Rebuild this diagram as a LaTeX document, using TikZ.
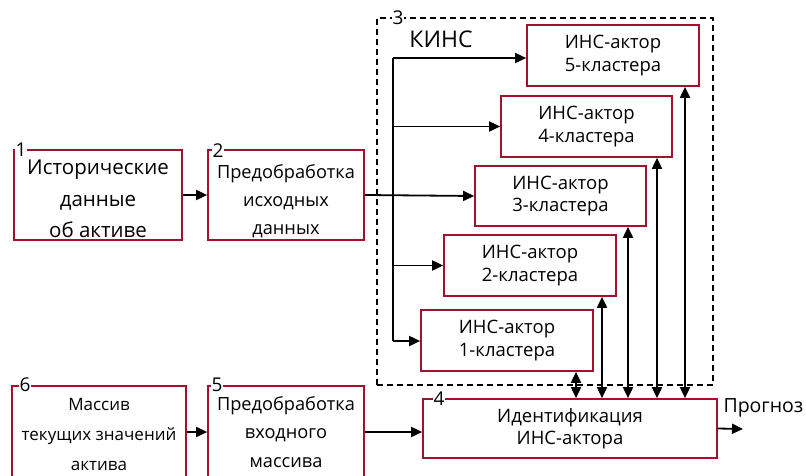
\documentclass[tikz,border=0pt]{standalone}
\usepackage{fontspec}
\setmainfont{Open Sans}
\usetikzlibrary{arrows.meta}
\definecolor{boxred}{HTML}{A0122E}
\tikzset{
  block/.style={draw=boxred, line width=1.7pt, fill=white, inner sep=0pt, align=center},
  actor/.style={block, font=\fontsize{18.5}{22.5}\selectfont},
  num/.style={fill=white, inner sep=1pt, font=\fontsize{19}{19}\selectfont},
  link/.style={line width=1.8pt, -{Triangle[length=11pt,width=10pt]}},
  twoway/.style={line width=1.8pt, {Triangle[length=11pt,width=10pt]}-{Triangle[length=11pt,width=10pt]}},
}

\begin{document}
\begin{tikzpicture}[x=1pt,y=-1pt]
    \useasboundingbox (0,0) rectangle (806,476);
    % upper chain
    \node[block, font=\fontsize{20.5}{31.5}\selectfont, minimum width=168pt, minimum height=90pt] (hist) at (98,195) {\rule{0pt}{23pt}Исторические\\данные\\об активе};
    \node[block, font=\fontsize{18.2}{28}\selectfont, minimum width=156pt, minimum height=90pt] (prep) at (286,195) {\rule{0pt}{26pt}Предобработка\\исходных\\данных};
    % lower chain
    \node[block, font=\fontsize{17}{30}\selectfont, minimum width=174pt, minimum height=92pt] (mass) at (99,432) {\rule{0pt}{17pt}Массив\\текущих значений\\актива};
    \node[block, font=\fontsize{18.2}{28.5}\selectfont, minimum width=156pt, minimum height=92pt] (prepin) at (286,432) {Предобработка\\входного\\массива};
    % KINS
    \node[draw, dash pattern=on 6pt off 4pt, line width=1.3pt, minimum width=336pt, minimum height=367pt] (kins) at (545,201.5) {};
    \node[font=\fontsize{23}{23}\selectfont] (kinsname) at (441,39) {КИНС};
    \node[actor, minimum width=172pt, minimum height=61pt] (act5) at (613,55.5) {ИНС-актор\\5-кластера};
    \node[actor, minimum width=171pt, minimum height=61pt] (act4) at (586.5,126.5) {ИНС-актор\\4-кластера};
    \node[actor, minimum width=171pt, minimum height=60pt] (act3) at (560.5,196) {ИНС-актор\\3-кластера};
    \node[actor, minimum width=172pt, minimum height=61pt] (act2) at (530,265.5) {ИНС-актор\\2-кластера};
    \node[actor, minimum width=172pt, minimum height=61pt] (act1) at (507,340.5) {ИНС-актор\\1-кластера};
    \node[actor, minimum width=294pt, minimum height=59pt] (ident) at (570,428.5) {Идентификация\\ИНС-актора};
    % numbers
    \node[num] (l1) at (21,150) {1};
    \node[num] (l2) at (218,151) {2};
    \node[num] (l3) at (398,18) {3};
    \node[num] (l4) at (439,399) {4};
    \node[num] (l5) at (217,385) {5};
    \node[num] (l6) at (25,385) {6};
    % connections
    \coordinate (bustop) at (393,58);
    \coordinate (busbot) at (393,341);
    \draw[link] (hist) -- (prep);
    \draw[link] (prep.east) -- (act3.west);
    \draw[line width=1.8pt] (bustop) -- (busbot);
    \draw[link] (bustop) -- (bustop -| act5.west);
    \draw[link] (bustop |- act4.west) -- (act4.west);
    \draw[link] (bustop |- act2.west) -- (act2.west);
    \draw[link] (busbot) -- (busbot -| act1.west);
    \foreach \xx/\aa in {576/act1,602/act2,628/act3,657/act4,685/act5}
        \draw[twoway] (\xx,0 |- \aa.south) -- (\xx,0 |- ident.north);
    \draw[link] (mass.east) -- (mass.east -| prepin.west);
    \draw[link] (prepin.east) -- (prepin.east -| ident.west);
    \coordinate (out) at (743,429);
    \draw[link] (ident.east) -- (out);
    \node[anchor=west, font=\fontsize{19.5}{19.5}\selectfont] (progn) at (720,408) {Прогноз};
\end{tikzpicture}
\end{document}
